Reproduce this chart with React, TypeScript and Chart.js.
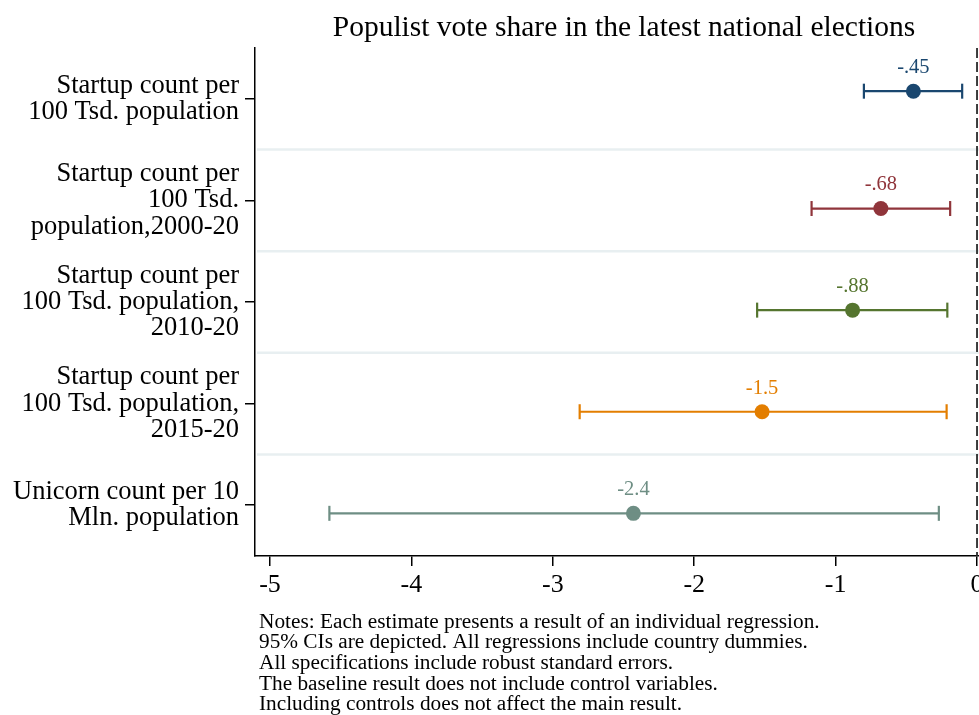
import React, { useEffect, useRef } from "react";
import { Chart, registerables } from "chart.js";

Chart.register(...registerables);

const TITLE = "Populist vote share in the latest national elections";
const CATEGORIES: string[][] = [
  ["Startup count per", "100 Tsd. population"],
  ["Startup count per", "100 Tsd.", "population,2000-20"],
  ["Startup count per", "100 Tsd. population,", "2010-20"],
  ["Startup count per", "100 Tsd. population,", "2015-20"],
  ["Unicorn count per 10", "Mln. population"],
];
const ESTIMATES = [-0.45, -0.68, -0.88, -1.52, -2.43];
const CI_LOW = [-0.8, -1.17, -1.555, -2.81, -4.58];
const CI_HIGH = [-0.105, -0.19, -0.21, -0.215, -0.27];
const VALUE_LABELS = ["-.45", "-.68", "-.88", "-1.5", "-2.4"];
const COLORS = ["#1a476f", "#90353b", "#55752f", "#e37e00", "#6e8e84"];
const MODEL_OFFSET = [-0.075, 0.08, 0.08, 0.08, 0.08];
const X_TICKS = [-5, -4, -3, -2, -1, 0];
const NOTES = [
  "Notes: Each estimate presents a result of an individual regression.",
  "95% CIs are depicted. All regressions include country dummies.",
  "All specifications include robust standard errors.",
  "The baseline result does not include control variables.",
  "Including controls does not affect the main result.",
];

const FONT = "'Liberation Serif', 'Times New Roman', serif";

const decorPlugin = {
  id: "decor",
  beforeDatasetsDraw(chart: any) {
    const { ctx, chartArea, scales } = chart;
    const y = scales.y;
    const x = scales.x;
    ctx.save();
    ctx.strokeStyle = "#e8eff1";
    ctx.lineWidth = 2.5;
    for (let k = 1; k < CATEGORIES.length; k++) {
      const py = y.getPixelForValue(k + 0.5);
      ctx.beginPath();
      ctx.moveTo(chartArea.left + 2, py);
      ctx.lineTo(chartArea.right, py);
      ctx.stroke();
    }
    const px = x.getPixelForValue(0);
    ctx.strokeStyle = "#2a2a2a";
    ctx.lineWidth = 1.8;
    ctx.setLineDash([10, 4]);
    ctx.beginPath();
    ctx.moveTo(px, chartArea.top);
    ctx.lineTo(px, chartArea.bottom);
    ctx.stroke();
    ctx.restore();
  },
  afterDatasetsDraw(chart: any) {
    const { ctx, scales } = chart;
    ctx.save();
    ctx.font = `20.5px ${FONT}`;
    ctx.textAlign = "center";
    ctx.textBaseline = "middle";
    ESTIMATES.forEach((v, i) => {
      const px = scales.x.getPixelForValue(v);
      const py = scales.y.getPixelForValue(i + 1 + MODEL_OFFSET[i]);
      ctx.fillStyle = COLORS[i];
      ctx.fillText(VALUE_LABELS[i], px, py - 23.5);
    });
    ctx.restore();
  },
  afterDraw(chart: any) {
    const { ctx } = chart;
    ctx.save();
    ctx.fillStyle = "#000";
    ctx.font = `29.5px ${FONT}`;
    ctx.textAlign = "center";
    ctx.textBaseline = "middle";
    ctx.fillText(TITLE, 624, 28);
    ctx.font = `21.3px ${FONT}`;
    ctx.textAlign = "left";
    NOTES.forEach((line, i) => {
      ctx.fillText(line, 259, 622 + i * 20.7);
    });
    ctx.restore();
  },
};

export default function App() {
  const ref = useRef<HTMLCanvasElement | null>(null);
  useEffect(() => {
    if (!ref.current) return;
    const datasets: any[] = [];
    ESTIMATES.forEach((v, i) => {
      const yy = i + 1 + MODEL_OFFSET[i];
      datasets.push({
        type: "scatter",
        showLine: true,
        data: [
          { x: CI_LOW[i], y: yy },
          { x: CI_HIGH[i], y: yy },
        ],
        borderColor: COLORS[i],
        borderWidth: 2.2,
        pointStyle: "line",
        rotation: 90,
        pointRadius: 7.5,
        pointBorderWidth: 2.2,
        pointBorderColor: COLORS[i],
        pointBackgroundColor: COLORS[i],
      });
    });
    datasets.push({
      type: "scatter",
      showLine: false,
      data: ESTIMATES.map((v, i) => ({ x: v, y: i + 1 + MODEL_OFFSET[i] })),
      pointRadius: 7.5,
      pointBorderWidth: 0,
      pointBackgroundColor: COLORS,
      pointBorderColor: COLORS,
    });
    const chart = new Chart(ref.current, {
      type: "scatter",
      data: { datasets },
      plugins: [decorPlugin],
      options: {
        animation: false,
        responsive: false,
        devicePixelRatio: 1,
        layout: { autoPadding: false, padding: { top: 48, left: 0, right: 0, bottom: 0 } },
        plugins: {
          legend: { display: false },
          tooltip: { enabled: false },
          title: { display: false },
        },
        scales: {
          x: {
            type: "linear",
            min: -5.106,
            max: 0.014,
            afterBuildTicks: (s: any) => {
              s.ticks = X_TICKS.map((v) => ({ value: v }));
            },
            afterFit: (s: any) => {
              s.height = 159;
              s.paddingLeft = 0;
              s.paddingRight = 0;
            },
            ticks: {
              color: "#000",
              font: { family: FONT, size: 26 },
              padding: 4,
              maxRotation: 0,
              autoSkip: false,
              callback: (v: any) => String(v),
            },
            grid: {
              drawOnChartArea: false,
              drawTicks: true,
              tickLength: 10,
              color: "#000",
              lineWidth: 1.5,
            },
            border: { color: "#000", width: 1.5 },
          },
          y: {
            type: "linear",
            min: 0.5,
            max: 5.5,
            reverse: true,
            afterBuildTicks: (s: any) => {
              s.ticks = CATEGORIES.map((_, i) => ({ value: i + 1 }));
            },
            afterFit: (s: any) => {
              s.width = 255;
              s.paddingTop = 0;
              s.paddingBottom = 0;
            },
            ticks: {
              color: "#000",
              font: { family: FONT, size: 26.5, lineHeight: 0.99 },
              padding: 6,
              autoSkip: false,
              callback: (v: any) => CATEGORIES[Math.round(v) - 1] as any,
            },
            grid: {
              drawOnChartArea: false,
              drawTicks: true,
              tickLength: 10,
              color: "#000",
              lineWidth: 1.5,
            },
            border: { color: "#000", width: 1.5 },
          },
        },
      } as any,
    });
    return () => chart.destroy();
  }, []);
  return (
    <div style={{ position: "fixed", left: 0, top: 0, width: 979, height: 715, background: "#fff" }}>
      <canvas ref={ref} width={979} height={715} style={{ width: 979, height: 715 }} />
    </div>
  );
}
